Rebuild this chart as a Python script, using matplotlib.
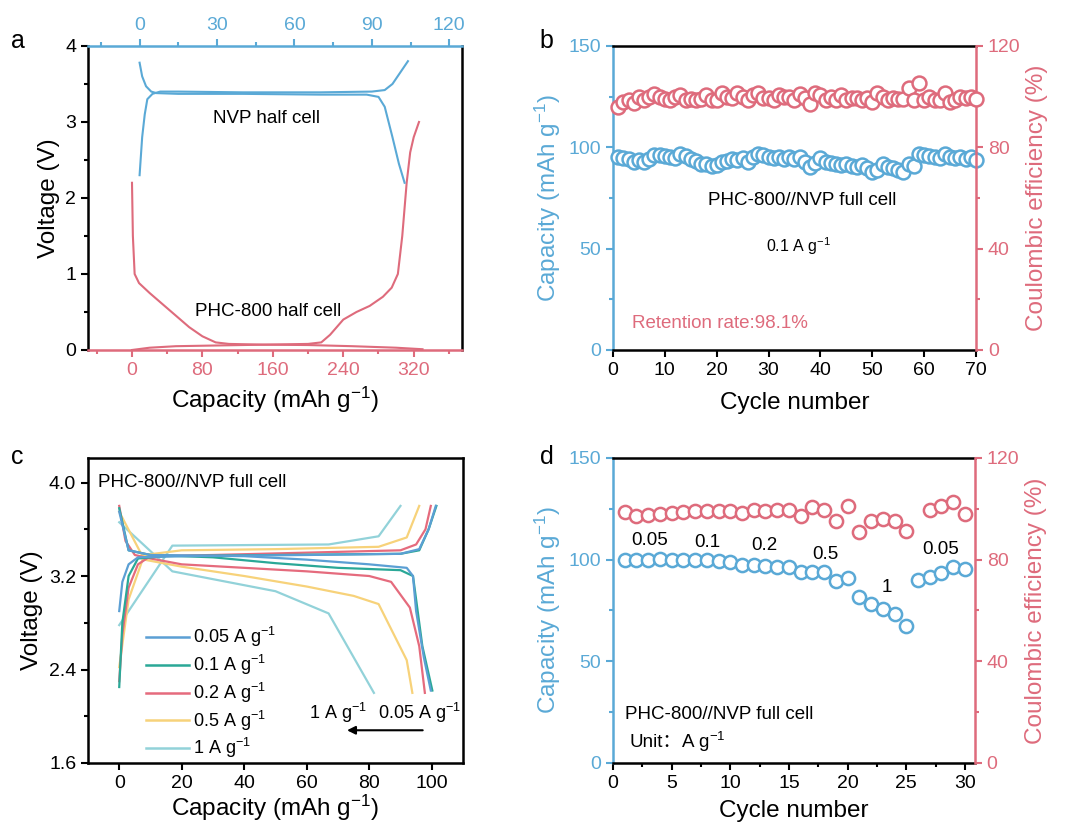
import numpy as np
import matplotlib
matplotlib.use('Agg')
import matplotlib.pyplot as plt
from matplotlib.ticker import MultipleLocator

plt.rcParams['font.family'] = ['Liberation Sans', 'Noto Sans CJK SC', 'DejaVu Sans']
plt.rcParams['mathtext.fontset'] = 'custom'
plt.rcParams['mathtext.rm'] = 'Liberation Sans'
plt.rcParams['mathtext.it'] = 'Liberation Sans:italic'
plt.rcParams['mathtext.default'] = 'regular'

BLUE = '#5aa9d6'
RED = '#de6b7c'
c_rates = ['#5b9fd4', '#2aa897', '#e56b7d', '#f7d27a', '#92d2d9']

TICK = 14
LAB = 17.5
NOTE = 13.5

# ---- a: half cells
nvp_chg_cap = [0, 1, 2, 3, 5, 8, 15, 40, 70, 90, 95, 98, 101, 104]
nvp_chg_v = [2.3, 2.8, 3.1, 3.3, 3.37, 3.4, 3.4, 3.39, 3.39, 3.4, 3.42, 3.5, 3.65, 3.8]
nvp_dis_cap = [0, 1, 2.5, 4.5, 6.5, 15, 40, 70, 88, 92.6, 95, 98, 100.5, 102.7]
nvp_dis_v = [3.78, 3.6, 3.47, 3.4, 3.38, 3.37, 3.37, 3.36, 3.36, 3.33, 3.2, 2.8, 2.45, 2.2]

phc_dis_cap = [0, 1, 3, 8, 20, 35, 50, 65, 80, 95, 110, 150, 200, 250, 300, 330]
phc_dis_v = [2.2, 1.5, 1.0, 0.88, 0.75, 0.6, 0.45, 0.3, 0.18, 0.1, 0.08, 0.07, 0.065, 0.05, 0.03, 0.01]
phc_chg_cap = [0, 20, 50, 100, 150, 200, 215, 225, 240, 255, 270, 285, 295, 302, 307, 312, 316, 320, 326]
phc_chg_v = [0.0, 0.03, 0.05, 0.06, 0.07, 0.08, 0.1, 0.2, 0.4, 0.5, 0.58, 0.7, 0.82, 1.0, 1.5, 2.2, 2.6, 2.8, 3.0]

# ---- b: long cycling at 0.1 A g-1
b_cycle = np.arange(1, 71)
b_cap = [95.4, 94.6, 94.0, 92.9, 93.8, 92.6, 94.0, 96.2, 96.2, 95.7,
         95.0, 94.6, 96.7, 95.7, 94.0, 93.3, 92.0, 91.8, 90.8, 91.3,
         92.9, 93.4, 94.0, 93.8, 94.6, 92.9, 95.4, 96.7, 96.2, 95.4,
         94.6, 95.0, 94.0, 95.0, 94.0, 95.4, 92.9, 90.5, 92.4, 94.6,
         92.9, 92.4, 92.0, 91.3, 92.0, 90.8, 90.5, 91.3, 89.6, 88.0,
         88.8, 91.8, 90.5, 89.6, 88.8, 87.7, 92.0, 91.0, 96.7, 96.2,
         95.7, 95.4, 94.6, 96.7, 95.4, 94.6, 95.4, 94.0, 95.0, 93.6]
b_ce = [96.0, 98.0, 98.7, 97.4, 100.0, 98.7, 100.0, 101.0, 100.0, 99.0,
        98.7, 100.0, 100.7, 98.7, 99.0, 98.7, 99.0, 100.7, 98.7, 98.7,
        101.3, 100.0, 99.3, 101.3, 100.0, 98.7, 100.7, 101.3, 99.3, 99.3,
        98.7, 100.7, 99.7, 100.0, 98.7, 101.0, 99.3, 97.1, 101.3, 100.7,
        98.7, 100.0, 98.7, 100.7, 98.7, 99.3, 99.3, 98.7, 99.3, 98.0,
        101.3, 100.0, 98.7, 99.3, 99.0, 99.0, 103.3, 98.7, 105.5, 98.7,
        100.0, 98.7, 98.7, 101.3, 98.0, 98.7, 100.0, 99.3, 100.0, 99.0]

# ---- c: charge/discharge profiles at different rates
c_labels = ['0.05 A g$^{-1}$', '0.1 A g$^{-1}$', '0.2 A g$^{-1}$', '0.5 A g$^{-1}$', '1 A g$^{-1}$']
c_chg_cap = [
    [0, 1, 3, 6, 20, 60, 90, 96, 99, 101.3],
    [0, 1, 3, 6, 15, 50, 90, 96, 99, 101.5],
    [0, 1, 3, 6, 10, 30, 60, 90, 95, 98, 99.7],
    [0, 3, 8, 20, 50, 83, 92, 96],
    [0, 17, 67, 83, 90],
]
c_chg_v = [
    [2.9, 3.15, 3.3, 3.36, 3.37, 3.38, 3.39, 3.43, 3.6, 3.8],
    [2.25, 2.8, 3.2, 3.35, 3.37, 3.38, 3.39, 3.42, 3.6, 3.8],
    [2.3, 2.7, 3.1, 3.3, 3.37, 3.38, 3.4, 3.42, 3.47, 3.6, 3.8],
    [2.42, 3.0, 3.38, 3.42, 3.43, 3.45, 3.53, 3.8],
    [2.78, 3.46, 3.47, 3.54, 3.8],
]
c_dis_cap = [
    [0, 3, 10, 40, 60, 80, 92, 94, 95, 97.5, 99.7],
    [0, 3, 10, 30, 50, 70, 90, 94, 95, 97, 100.2],
    [0, 2, 5, 10, 20, 60, 80, 87, 93, 96, 97.8],
    [0, 8, 20, 40, 60, 75, 83, 92, 93.8],
    [0, 17, 50, 67, 81.5],
]
c_dis_v = [
    [3.75, 3.42, 3.38, 3.37, 3.34, 3.3, 3.27, 3.2, 2.9, 2.5, 2.22],
    [3.78, 3.42, 3.38, 3.36, 3.31, 3.27, 3.25, 3.2, 3.0, 2.6, 2.22],
    [3.8, 3.5, 3.38, 3.35, 3.3, 3.24, 3.2, 3.15, 2.93, 2.6, 2.2],
    [3.75, 3.34, 3.28, 3.2, 3.11, 3.03, 2.96, 2.48, 2.2],
    [3.66, 3.24, 3.07, 2.88, 2.2],
]

# ---- d: rate capability
d_cycle = np.arange(1, 31)
d_cap = [100.0, 100.0, 100.0, 100.2, 100.0, 99.6, 99.6, 99.6, 99.2, 99.0,
         97.6, 97.4, 96.8, 96.6, 96.3, 93.8, 93.8, 93.8, 89.7, 91.0,
         81.5, 78.3, 75.8, 73.4, 67.2, 90.0, 91.4, 93.5, 96.6, 95.5]
d_ce = [98.6, 97.1, 97.7, 98.0, 98.4, 98.6, 99.0, 99.0, 99.0, 99.0,
        98.4, 99.6, 99.0, 99.6, 99.6, 97.3, 100.6, 99.6, 95.4, 101.3,
        90.8, 95.4, 96.0, 95.4, 91.2, np.nan, 99.6, 101.3, 102.6, 98.0]
d_rate_labels = ['0.05', '0.1', '0.2', '0.5', '1', '0.05']
d_rate_x = [3.1, 8.0, 12.9, 18.1, 23.3, 27.9]
d_rate_y = [109.4, 108.6, 107.0, 102.3, 86.5, 104.8]


def style_ticks(ax, which_axis, color='black'):
    ax.tick_params(axis=which_axis, which='major', direction='out', length=5, width=1.5,
                   labelsize=TICK, colors=color)
    ax.tick_params(axis=which_axis, which='minor', direction='out', length=3, width=1.5, colors=color)


fig = plt.figure(figsize=(10.69, 8.27), dpi=100)

# ================= a
ax_a = fig.add_axes([0.0823, 0.5768, 0.350, 0.3676])
ax_a.plot(phc_dis_cap, phc_dis_v, color=RED, lw=1.5)
ax_a.plot(phc_chg_cap, phc_chg_v, color=RED, lw=1.5)
ax_a.set_xlim(-50, 375)
ax_a.set_ylim(0, 4)
ax_a.xaxis.set_major_locator(MultipleLocator(80))
ax_a.xaxis.set_minor_locator(MultipleLocator(40))
ax_a.yaxis.set_major_locator(MultipleLocator(1))
ax_a.yaxis.set_minor_locator(MultipleLocator(0.5))
style_ticks(ax_a, 'x', RED)
style_ticks(ax_a, 'y')
ax_a.set_xlabel('Capacity (mAh g$^{-1}$)', fontsize=LAB, labelpad=4.5)
ax_a.set_ylabel('Voltage (V)', fontsize=LAB, labelpad=4)
for s in ax_a.spines.values():
    s.set_linewidth(1.8)
ax_a.spines['bottom'].set_color(RED)
ax_a.spines['top'].set_visible(False)
ax_a.text(155, 0.5, 'PHC-800 half cell', fontsize=NOTE, ha='center', va='center')

ax_at = ax_a.twiny()
ax_at.plot(nvp_chg_cap, nvp_chg_v, color=BLUE, lw=1.5)
ax_at.plot(nvp_dis_cap, nvp_dis_v, color=BLUE, lw=1.5)
ax_at.set_xlim(-20, 125)
ax_at.xaxis.set_major_locator(MultipleLocator(30))
ax_at.xaxis.set_minor_locator(MultipleLocator(15))
style_ticks(ax_at, 'x', BLUE)
for k in ['left', 'right', 'bottom']:
    ax_at.spines[k].set_visible(False)
ax_at.spines['top'].set_color(BLUE)
ax_at.spines['top'].set_linewidth(1.8)
ax_at.text(49, 3.05, 'NVP half cell', fontsize=NOTE, ha='center', va='center')

# ================= b
ax_b = fig.add_axes([0.5734, 0.5768, 0.3396, 0.3676])
ax_b.plot(b_cycle, b_cap, 'o', ms=10, mfc='white', mec=BLUE, mew=1.8, clip_on=False, zorder=3)
ax_b.set_xlim(0, 70)
ax_b.set_ylim(0, 150)
ax_b.xaxis.set_major_locator(MultipleLocator(10))
ax_b.yaxis.set_major_locator(MultipleLocator(50))
ax_b.yaxis.set_minor_locator(MultipleLocator(25))
style_ticks(ax_b, 'x')
style_ticks(ax_b, 'y', BLUE)
ax_b.set_xlabel('Cycle number', fontsize=LAB, labelpad=9.5)
ax_b.set_ylabel('Capacity (mAh g$^{-1}$)', fontsize=LAB, color=BLUE, labelpad=4)
for s in ax_b.spines.values():
    s.set_linewidth(1.8)
ax_b.spines['left'].set_color(BLUE)
ax_b.spines['right'].set_visible(False)
ax_b.text(36.4, 74, 'PHC-800//NVP full cell', fontsize=NOTE, ha='center', va='center')
ax_b.text(35.7, 51, '0.1 A g$^{-1}$', fontsize=11.5, ha='center', va='center')
ax_b.text(3.6, 13.2, 'Retention rate:98.1%', fontsize=NOTE, color=RED, ha='left', va='center')

ax_b2 = ax_b.twinx()
ax_b2.plot(b_cycle, b_ce, 'o', ms=10, mfc='white', mec=RED, mew=1.8, clip_on=False, zorder=3)
ax_b2.set_ylim(0, 120)
ax_b2.yaxis.set_major_locator(MultipleLocator(40))
ax_b2.yaxis.set_minor_locator(MultipleLocator(20))
style_ticks(ax_b2, 'y', RED)
ax_b2.set_ylabel('Coulombic efficiency (%)', fontsize=LAB, color=RED, labelpad=4)
for k in ['left', 'top', 'bottom']:
    ax_b2.spines[k].set_visible(False)
ax_b2.spines['right'].set_color(RED)
ax_b2.spines['right'].set_linewidth(1.8)

# ================= c
ax_c = fig.add_axes([0.0823, 0.0774, 0.3508, 0.3688])
for i in range(len(c_labels))[::-1]:
    ax_c.plot(c_chg_cap[i], c_chg_v[i], color=c_rates[i], lw=1.6)
    ax_c.plot(c_dis_cap[i], c_dis_v[i], color=c_rates[i], lw=1.6)
handles = [plt.Line2D([], [], color=c_rates[i], lw=1.8) for i in range(len(c_labels))]
ax_c.legend(handles, c_labels, loc='upper left', bbox_to_anchor=(0.135, 0.475), frameon=False,
            fontsize=13, handlelength=2.4, handletextpad=0.2, labelspacing=0.2, borderaxespad=0)
ax_c.set_xlim(-10, 110)
ax_c.set_ylim(1.6, 4.21)
ax_c.xaxis.set_major_locator(MultipleLocator(20))
ax_c.yaxis.set_major_locator(MultipleLocator(0.8))
ax_c.yaxis.set_minor_locator(MultipleLocator(0.4))
ax_c.yaxis.set_major_formatter(matplotlib.ticker.FormatStrFormatter('%.1f'))
style_ticks(ax_c, 'x')
style_ticks(ax_c, 'y')
ax_c.set_xlabel('Capacity (mAh g$^{-1}$)', fontsize=LAB, labelpad=1)
ax_c.set_ylabel('Voltage (V)', fontsize=LAB, labelpad=4)
for s in ax_c.spines.values():
    s.set_linewidth(1.8)
ax_c.text(-6.7, 4.0, 'PHC-800//NVP full cell', fontsize=NOTE, ha='left', va='center')
ax_c.annotate('', xy=(72, 1.88), xytext=(98, 1.88),
              arrowprops=dict(arrowstyle='-|>', color='black', lw=1.5, mutation_scale=12))
ax_c.text(70, 2.03, '1 A g$^{-1}$', fontsize=13, ha='center', va='center')
ax_c.text(96, 2.03, '0.05 A g$^{-1}$', fontsize=13, ha='center', va='center')

# ================= d
ax_d = fig.add_axes([0.5734, 0.0774, 0.3386, 0.3688])
ax_d.plot(d_cycle, d_cap, 'o', ms=9.5, mfc='white', mec=BLUE, mew=1.8, zorder=3)
ax_d.set_xlim(0, 30.85)
ax_d.set_ylim(0, 150)
ax_d.xaxis.set_major_locator(MultipleLocator(5))
ax_d.xaxis.set_minor_locator(MultipleLocator(2.5))
ax_d.yaxis.set_major_locator(MultipleLocator(50))
ax_d.yaxis.set_minor_locator(MultipleLocator(25))
style_ticks(ax_d, 'x')
style_ticks(ax_d, 'y', BLUE)
ax_d.set_xlabel('Cycle number', fontsize=LAB, labelpad=6)
ax_d.set_ylabel('Capacity (mAh g$^{-1}$)', fontsize=LAB, color=BLUE, labelpad=4)
for s in ax_d.spines.values():
    s.set_linewidth(1.8)
ax_d.spines['left'].set_color(BLUE)
ax_d.spines['right'].set_visible(False)
for lab, x, y in zip(d_rate_labels, d_rate_x, d_rate_y):
    ax_d.text(x, y, lab, fontsize=NOTE, ha='center', va='center')
ax_d.text(1.0, 23.9, 'PHC-800//NVP full cell', fontsize=NOTE, ha='left', va='center')
ax_d.text(1.4, 10.3, 'Unit：', fontsize=NOTE, ha='left', va='center',
          family=['Liberation Sans', 'Noto Sans CJK SC'])
ax_d.text(5.8, 10.3, 'A g$^{-1}$', fontsize=NOTE, ha='left', va='center')

ax_d2 = ax_d.twinx()
ax_d2.plot(d_cycle, d_ce, 'o', ms=9.5, mfc='white', mec=RED, mew=1.8, zorder=3)
ax_d2.set_ylim(0, 120)
ax_d2.yaxis.set_major_locator(MultipleLocator(40))
ax_d2.yaxis.set_minor_locator(MultipleLocator(20))
style_ticks(ax_d2, 'y', RED)
ax_d2.set_ylabel('Coulombic efficiency (%)', fontsize=LAB, color=RED, labelpad=4)
for k in ['left', 'top', 'bottom']:
    ax_d2.spines[k].set_visible(False)
ax_d2.spines['right'].set_color(RED)
ax_d2.spines['right'].set_linewidth(1.8)

# panel letters
for letter, x, y in [('a', 0.010, 0.950), ('b', 0.505, 0.950), ('c', 0.010, 0.447), ('d', 0.505, 0.447)]:
    fig.text(x, y, letter, fontsize=18, ha='left', va='center')

fig.savefig('out.png', dpi=100)
